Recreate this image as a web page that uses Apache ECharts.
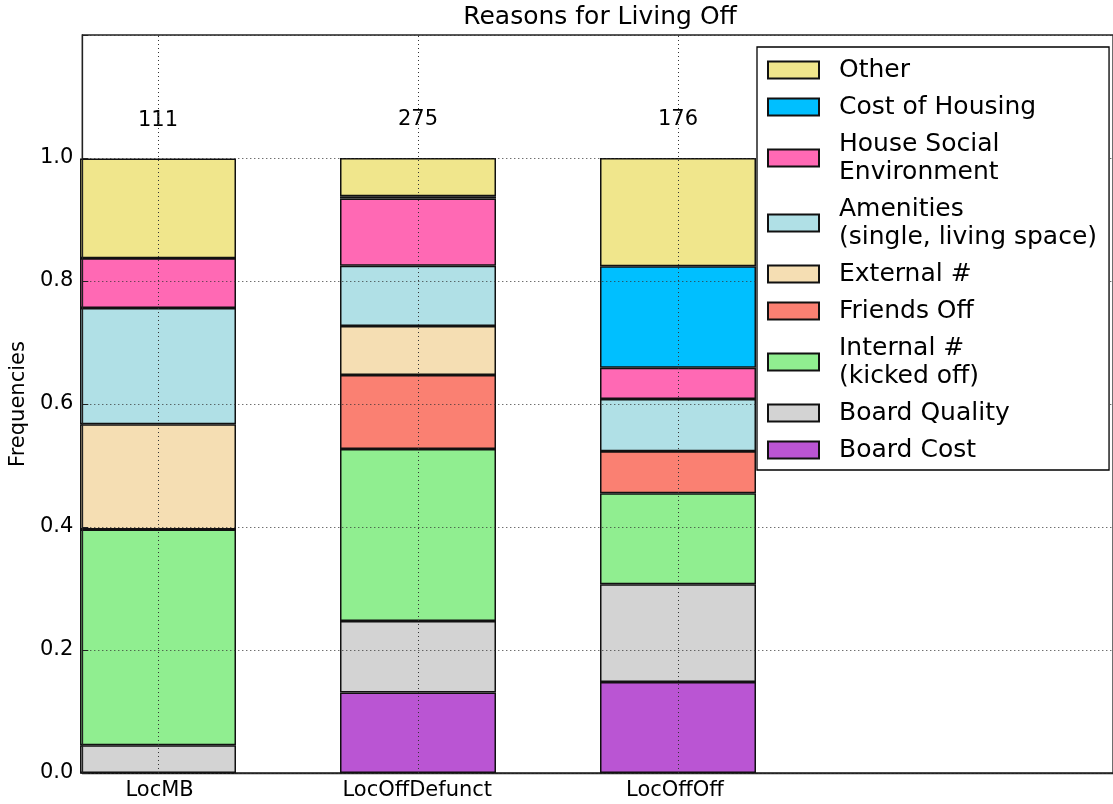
<!DOCTYPE html>
<html>
<head>
<meta charset="utf-8">
<script src="https://cdn.jsdelivr.net/npm/echarts@6/dist/echarts.min.js"></script>
<style>
html,body{margin:0;padding:0;background:#fff;}
#chart{width:1113px;height:804px;}
</style>
</head>
<body>
<div id="chart"></div>
<script>
// Categories and counts
const categories = ['LocMB', 'LocOffDefunct', 'LocOffOff'];
const counts = [111, 275, 176];

// Frequencies per reason (bottom of stack first)
const boardCost      = [0.000, 0.131, 0.148];
const boardQuality   = [0.045, 0.116, 0.159];
const internalKicked = [0.351, 0.280, 0.148];
const friendsOff     = [0.000, 0.120, 0.068];
const externalHash   = [0.171, 0.080, 0.000];
const amenities      = [0.189, 0.098, 0.085];
const houseSocial    = [0.081, 0.109, 0.051];
const costHousing    = [0.000, 0.004, 0.165];
const other          = [0.162, 0.062, 0.176];

const yTicks = [0.0, 0.2, 0.4, 0.6, 0.8, 1.0];

const FONT = 'DejaVu Sans';
const OFFSET = 0.3; // bar centre offset inside each unit slot of the frame axis
const tickPos = categories.map((c, i) => i + OFFSET);
const slots = categories.concat(['']); // 4 slots across the frame

const seriesDefs = [
  {name: 'Board Cost', data: boardCost, color: '#BA55D3'},
  {name: 'Board Quality', data: boardQuality, color: '#D3D3D3'},
  {name: 'Internal #\n(kicked off)', data: internalKicked, color: '#90EE90'},
  {name: 'Friends Off', data: friendsOff, color: '#FA8072'},
  {name: 'External #', data: externalHash, color: '#F5DEB3'},
  {name: 'Amenities\n(single, living space)', data: amenities, color: '#B0E0E6'},
  {name: 'House Social\nEnvironment', data: houseSocial, color: '#FF69B4'},
  {name: 'Cost of Housing', data: costHousing, color: '#00BFFF'},
  {name: 'Other', data: other, color: '#F0E68C'}
];

const series = seriesDefs.map((s, si) => {
  const o = {
    name: s.name,
    type: 'bar',
    stack: 'total',
    xAxisIndex: 1, yAxisIndex: 1,
    barWidth: '60%',
    data: s.data.slice(),
    itemStyle: {color: s.color, borderColor: '#111', borderWidth: 1.5},
    emphasis: {disabled: true}
  };
  if (si === seriesDefs.length - 1) {
    o.label = {
      show: true, position: 'top', distance: 28,
      formatter: p => String(counts[p.dataIndex]),
      fontFamily: FONT, fontSize: 21, color: '#000'
    };
  }
  if (si === 0) {
    o.markLine = {
      silent: true, symbol: ['none', 'none'], z: 6,
      label: {show: false},
      lineStyle: {type: [1, 3], color: '#333', width: 1},
      data: categories.map(c => ({xAxis: c}))
    };
  }
  return o;
});

const chart = echarts.init(document.getElementById('chart'), null, {renderer: 'canvas'});
chart.setOption({
  animation: false,
  backgroundColor: '#fff',
  title: {
    text: 'Reasons for Living Off',
    left: 600, top: 5, textAlign: 'center', padding: 0,
    textStyle: {fontFamily: FONT, fontSize: 25, fontWeight: 'normal', color: '#000'}
  },
  grid: [
    {left: 80, top: 35, bottom: 31, right: -7, show: true, borderColor: '#222', borderWidth: 1.3, backgroundColor: 'transparent'},
    {left: 28, top: 35, bottom: 31, width: 1040, show: false}
  ],
  legend: {
    orient: 'vertical',
    left: 757, top: 47,
    padding: [9, 12, 6, 10],
    itemGap: 9,
    itemWidth: 51, itemHeight: 17,
    icon: 'rect',
    borderColor: '#000', borderWidth: 1.3,
    backgroundColor: '#fff',
    selectedMode: false,
    textStyle: {fontFamily: FONT, fontSize: 25, color: '#000', lineHeight: 28, padding: [0, 0, 0, 15]},
    data: seriesDefs.map(s => s.name).reverse(),
    z: 20
  },
  xAxis: [
    {
      type: 'value', min: 0, max: 4, gridIndex: 0,
      axisLine: {show: true, lineStyle: {color: '#222', width: 1.3}},
      axisTick: {show: true, inside: true, length: 6, customValues: tickPos, lineStyle: {color: '#222'}},
      axisLabel: {
        customValues: tickPos,
        formatter: v => categories[Math.round(v - OFFSET)],
        fontFamily: FONT, fontSize: 21, color: '#000', margin: 7
      },
      splitLine: {show: false}
    },
    {
      type: 'category', gridIndex: 1, data: slots, boundaryGap: true,
      show: false
    }
  ],
  yAxis: [
    {
      type: 'value', min: 0, max: 1.2, interval: 0.2, gridIndex: 0,
      z: 5,
      name: 'Frequencies', nameLocation: 'middle', nameGap: 52,
      nameTextStyle: {fontFamily: FONT, fontSize: 21, color: '#000'},
      axisLine: {show: true, lineStyle: {color: '#222', width: 1.3}},
      axisTick: {show: true, inside: true, length: 6, lineStyle: {color: '#222'}},
      axisLabel: {
        formatter: v => (yTicks.some(t => Math.abs(t - v) < 1e-6) ? v.toFixed(1) : ''),
        fontFamily: FONT, fontSize: 21, color: '#000', margin: 9
      },
      splitLine: {show: true, lineStyle: {type: [1, 3], color: '#333', width: 1}}
    },
    {
      type: 'value', min: 0, max: 1.2, gridIndex: 1, show: false,
      splitLine: {show: false}
    }
  ],
  series: series
});
</script>
</body>
</html>
